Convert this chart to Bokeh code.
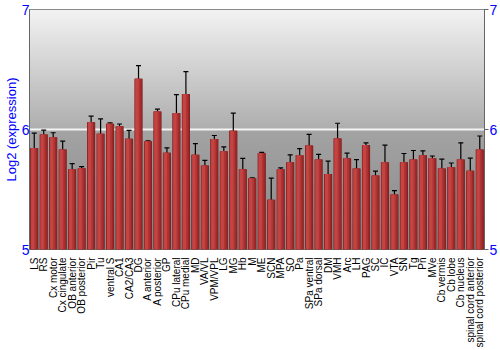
import numpy as np
from bokeh.plotting import figure
from bokeh.models import (FixedTicker, LinearAxis, Range1d, ColumnDataSource,
                          Whisker, TeeHead, Span)
from bokeh.transform import dodge
from bokeh.embed import file_html
from bokeh.resources import INLINE

regions = ["LS", "RS", "Cx motor", "Cx cingulate", "OB anterior", "OB posterior",
           "Pir", "Tu", "ventral S", "CA1", "CA2/CA3", "DG", "A anterior",
           "A posterior", "GP", "CPu lateral", "CPu medial", "MD", "VA/VL",
           "VPM/VPL", "LG", "MG", "Hb", "M", "ME", "SCN", "MPA", "SO", "Pa",
           "SPa ventral", "SPa dorsal", "DM", "VMH", "Arc", "LH", "PAG", "SC",
           "IC", "VTA", "SN", "Tg", "Pn", "MVe", "Cb vermis", "Cb lobe",
           "Cb nucleus", "spinal cord anterior", "spinal cord posterior"]

expression = [5.845, 5.959, 5.936, 5.834, 5.669, 5.677, 6.061, 5.964, 6.047,
              6.028, 5.923, 6.423, 5.903, 6.149, 5.807, 6.138, 6.296, 5.790,
              5.699, 5.920, 5.818, 5.989, 5.669, 5.594, 5.804, 5.414, 5.669,
              5.727, 5.785, 5.867, 5.749, 5.630, 5.925, 5.760, 5.674, 5.870,
              5.616, 5.727, 5.459, 5.727, 5.749, 5.785, 5.760, 5.674, 5.685,
              5.751, 5.657, 5.834]

error = [0.124, 0.035, 0.037, 0.069, 0.047, 0.014, 0.050, 0.124, 0.008, 0.018,
         0.069, 0.110, 0.003, 0.020, 0.040, 0.152, 0.187, 0.092, 0.043, 0.030,
         0.037, 0.148, 0.090, 0.004, 0.005, 0.180, 0.011, 0.062, 0.055, 0.092,
         0.044, 0.106, 0.127, 0.043, 0.075, 0.018, 0.037, 0.142, 0.032, 0.073,
         0.076, 0.037, 0.019, 0.079, 0.036, 0.138, 0.104, 0.112]

y_ticks = [5, 6, 7]

idx = np.arange(len(regions))
vals = np.array(expression)
errs = np.array(error)
src = ColumnDataSource(dict(x=idx, top=vals, upper=vals + errs, lower=vals - errs))

p = figure(width=500, height=350, output_backend="svg", toolbar_location=None,
           x_range=Range1d(-0.5, len(regions) - 0.5), y_range=Range1d(5, 7),
           min_border_left=26, min_border_right=14, min_border_top=9,
           min_border_bottom=100, background_fill_color="#aaaaaa",
           border_fill_color="white", outline_line_color="#666666")

# background gradient
rows = 240
img = np.zeros((rows, 1), dtype=np.uint32)
view = img.view(dtype=np.uint8).reshape((rows, 1, 4))
for r in range(rows):
    t = 1 - r / (rows - 1)  # 0 at top, 1 at bottom
    if t < 0.5:
        g = 243 - (243 - 174) * (t / 0.5)
    else:
        g = 164 - (164 - 136) * ((t - 0.5) / 0.5)
    view[r, 0] = [int(g), int(g), int(g), 255]
p.image_rgba(image=[img], x=-0.5, y=5, dw=len(regions), dh=2, level="image")

p.add_layout(Span(location=6, dimension="width", line_color="#f4f4f4",
                  line_width=2, level="underlay"))

# bars with a shaded look
p.vbar(x="x", top="top", bottom=5, width=0.86, source=src,
       fill_color="#7a1a1a", line_color=None)
p.vbar(x="x", top="top", bottom=5, width=0.74, source=src,
       fill_color="#9a2828", line_color=None)
p.vbar(x=dodge("x", -0.08, range=p.x_range), top="top", bottom=5, width=0.56,
       source=src, fill_color="#b03434", line_color=None)
p.vbar(x=dodge("x", -0.16, range=p.x_range), top="top", bottom=5, width=0.34,
       source=src, fill_color="#c44444", line_color=None)

w = Whisker(base="x", upper="upper", lower="lower", source=src,
            line_color="black", line_width=1.2,
            upper_head=TeeHead(size=5, line_color="black", line_width=1.2),
            lower_head=TeeHead(size=5, line_color="black", line_width=1.2))
p.add_layout(w)

p.xgrid.visible = False
p.ygrid.visible = False

# x axis
xa = p.xaxis[0]
xa.ticker = FixedTicker(ticks=list(idx))
xa.major_label_overrides = {int(i): r for i, r in zip(idx, regions)}
xa.major_label_orientation = np.pi / 2
xa.major_label_text_font = "Liberation Sans"
xa.major_label_text_font_size = "10px"
xa.major_label_text_color = "black"
xa.major_label_standoff = 2
xa.major_tick_line_color = None
xa.minor_tick_line_color = None
xa.axis_line_color = None

# left y axis
ya = p.yaxis[0]
ya.ticker = FixedTicker(ticks=y_ticks)
ya.major_label_text_color = "#0000ff"
ya.major_label_text_font = "Liberation Sans"
ya.major_label_text_font_size = "14px"
ya.major_label_standoff = 0
ya.major_tick_out = 0
ya.major_tick_in = 0
ya.minor_tick_line_color = None
ya.axis_line_color = "#666666"
ya.axis_label = "Log2 (expression)"
ya.axis_label_text_color = "#0000ff"
ya.axis_label_text_font = "Liberation Sans"
ya.axis_label_text_font_size = "13px"
ya.axis_label_text_font_style = "normal"
ya.axis_label_standoff = 0

# right y axis
ra = LinearAxis(ticker=FixedTicker(ticks=y_ticks))
ra.major_label_text_color = "#0000ff"
ra.major_label_text_font = "Liberation Sans"
ra.major_label_text_font_size = "14px"
ra.major_label_standoff = 1
ra.major_tick_out = 4
ra.major_tick_in = 0
ra.major_tick_line_color = "#666666"
ra.minor_tick_line_color = None
ra.axis_line_color = "#666666"
p.add_layout(ra, "right")

open("out.html", "w").write(file_html(p, INLINE))
